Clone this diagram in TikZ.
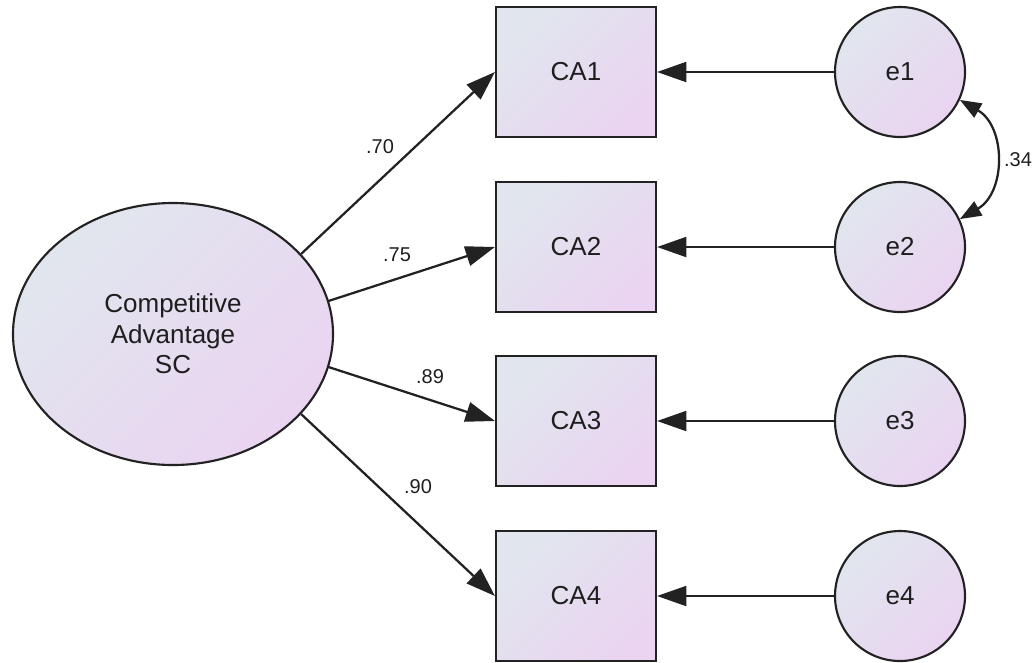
\documentclass[tikz,border=0pt]{standalone}
\usepackage{fontspec}
\setmainfont{Liberation Sans}
\usetikzlibrary{arrows.meta,shapes.geometric}
\definecolor{fillA}{HTML}{E1E6EE}
\definecolor{fillB}{HTML}{EAD4F1}
\definecolor{edge}{HTML}{222222}
\definecolor{ink}{HTML}{1E1E1E}
\tikzset{
  shaded/.style={draw=edge, line width=1.6pt, top color=fillA, bottom color=fillB, shading angle=45,
    text=ink, font=\fontsize{19.5}{23}\selectfont, inner sep=0pt, align=center},
  obs/.style={shaded, rectangle, minimum width=120pt, minimum height=97.5pt},
  err/.style={shaded, circle, minimum size=97.5pt},
  latent/.style={shaded, ellipse, minimum width=240pt, minimum height=196.5pt},
  path/.style={draw=edge, line width=1.7pt, -{Triangle[length=22pt,width=15pt]}},
  cov/.style={draw=edge, line width=1.7pt, {Triangle[length=16pt,width=12pt]}-{Triangle[length=16pt,width=12pt]}},
  coef/.style={text=ink, font=\fontsize{15}{17}\selectfont, inner sep=0pt}
}
\begin{document}
\begin{tikzpicture}[x=0.75pt, y=-0.75pt]
\useasboundingbox (0,0) rectangle (1035,662);

% latent factor
\node[latent] (F) at (173,334) {Competitive\\Advantage\\SC};

% indicators
\node[obs] (CA1) at (576,72) {CA1};
\node[obs] (CA2) at (576,247) {CA2};
\node[obs] (CA3) at (576,421) {CA3};
\node[obs] (CA4) at (576,596) {CA4};

% error terms
\node[err] (e1) at (900,72) {e1};
\node[err] (e2) at (900,247) {e2};
\node[err] (e3) at (900,421) {e3};
\node[err] (e4) at (900,596) {e4};

% loadings
\draw[path] (F.32) -- (CA1.west);
\draw[path] (F.12) -- (CA2.west);
\draw[path] (F.-12) -- (CA3.west);
\draw[path] (F.-32) -- (CA4.west);

% error paths
\draw[path] (e1.west) -- (CA1.east);
\draw[path] (e2.west) -- (CA2.east);
\draw[path] (e3.west) -- (CA3.east);
\draw[path] (e4.west) -- (CA4.east);

% error covariance
\draw[cov] (e1.-25) to[bend left=60, looseness=1.15] (e2.25);

% coefficients
\node[coef] (l1) at (380,147) {.70};
\node[coef] (l2) at (397,255) {.75};
\node[coef] (l3) at (430,377) {.89};
\node[coef] (l4) at (418,487) {.90};
\node[coef] (c12) at (1018,160) {.34};
\end{tikzpicture}
\end{document}
